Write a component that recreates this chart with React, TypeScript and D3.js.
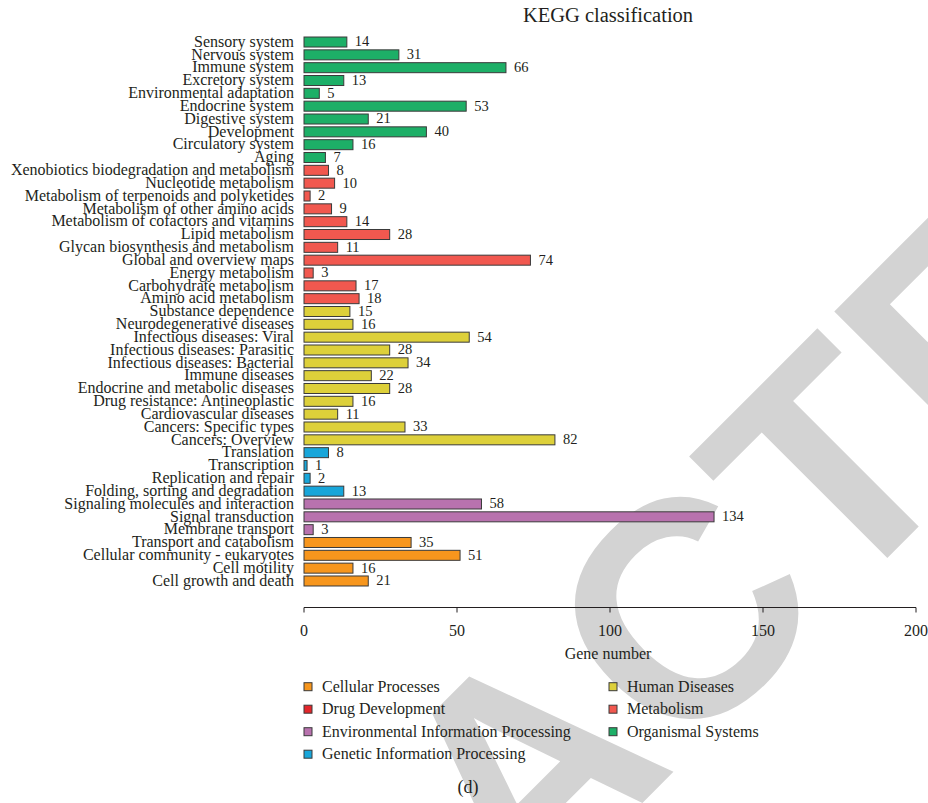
import React from "react";
import * as d3 from "d3";

const categories: string[] = [
  "Sensory system", "Nervous system", "Immune system", "Excretory system", "Environmental adaptation",
  "Endocrine system", "Digestive system", "Development", "Circulatory system", "Aging",
  "Xenobiotics biodegradation and metabolism", "Nucleotide metabolism", "Metabolism of terpenoids and polyketides",
  "Metabolism of other amino acids", "Metabolism of cofactors and vitamins", "Lipid metabolism",
  "Glycan biosynthesis and metabolism", "Global and overview maps", "Energy metabolism",
  "Carbohydrate metabolism", "Amino acid metabolism",
  "Substance dependence", "Neurodegenerative diseases", "Infectious diseases: Viral",
  "Infectious diseases: Parasitic", "Infectious diseases: Bacterial", "Immune diseases",
  "Endocrine and metabolic diseases", "Drug resistance: Antineoplastic", "Cardiovascular diseases",
  "Cancers: Specific types", "Cancers: Overview",
  "Translation", "Transcription", "Replication and repair", "Folding, sorting and degradation",
  "Signaling molecules and interaction", "Signal transduction", "Membrane transport",
  "Transport and catabolism", "Cellular community - eukaryotes", "Cell motility", "Cell growth and death",
];

const values: number[] = [
  14, 31, 66, 13, 5, 53, 21, 40, 16, 7,
  8, 10, 2, 9, 14, 28, 11, 74, 3, 17, 18,
  15, 16, 54, 28, 34, 22, 28, 16, 11, 33, 82,
  8, 1, 2, 13,
  58, 134, 3,
  35, 51, 16, 21,
];

const groups: string[] = [
  ...Array(10).fill("Organismal Systems"),
  ...Array(11).fill("Metabolism"),
  ...Array(11).fill("Human Diseases"),
  ...Array(4).fill("Genetic Information Processing"),
  ...Array(3).fill("Environmental Information Processing"),
  ...Array(4).fill("Cellular Processes"),
];

const classNames: string[] = [
  "Cellular Processes", "Drug Development", "Environmental Information Processing",
  "Genetic Information Processing", "Human Diseases", "Metabolism", "Organismal Systems",
];
const classColors: string[] = [
  "#f7961d", "#e3262a", "#b872ae", "#18a6da", "#ddd03a", "#f1584f", "#1daf67",
];

const xTicks: number[] = [0, 50, 100, 150, 200];

const SERIF = "'Liberation Serif', 'Times New Roman', serif";
const SANS = "'Liberation Sans', Arial, sans-serif";

export default function App() {
  const W = 928, H = 803;
  const x = d3.scaleLinear().domain([0, 200]).range([304, 916]);
  const y = d3.scaleBand<string>().domain(categories).range([35.6, 587.4]).paddingInner(0.22).paddingOuter(0.11);
  const color = d3.scaleOrdinal<string, string>().domain(classNames).range(classColors);
  const axisY = 607.5;

  const legendCols = [
    { x: 304, items: classNames.slice(0, 4) },
    { x: 609, items: classNames.slice(4) },
  ];

  const wmSize = 308;
  const wmU = 161;
  const wmV = 1022;

  return (
    <svg width={W} height={H} style={{ position: "absolute", left: 0, top: 0, background: "#fff", fontFamily: SERIF }}>
      <rect x={0} y={0} width={W} height={H} fill="#fff" />

      <g transform="rotate(-45)" fill="#d3d3d3" style={{ fontFamily: SANS, fontWeight: 700 }} fontSize={wmSize}>
        <text x={wmU} y={wmV} textAnchor="end">RETRAC</text>
        <text x={wmU} y={wmV} textAnchor="start">TED</text>
      </g>

      <text x={608} y={21.5} textAnchor="middle" fontSize={20.5} fill="#231f20">KEGG classification</text>

      {categories.map((c, i) => {
        const yy = y(c)!;
        const bh = y.bandwidth();
        return (
          <g key={c}>
            <text x={294} y={yy + bh / 2} dy="0.3em" textAnchor="end" fontSize={16} fill="#231f20">{c}</text>
            <rect x={x(0)} y={yy} width={x(values[i]) - x(0)} height={bh}
              fill={color(groups[i])} stroke="#3a3a3a" strokeWidth={1} />
            <text x={x(values[i]) + 8} y={yy + bh / 2} dy="0.3em" fontSize={14.5} fill="#231f20">{values[i]}</text>
          </g>
        );
      })}

      <g>
        <line x1={x(0)} x2={x(200)} y1={axisY} y2={axisY} stroke="#231f20" strokeWidth={1} />
        {xTicks.map((t) => (
          <g key={t}>
            <line x1={x(t)} x2={x(t)} y1={axisY} y2={axisY + 5} stroke="#231f20" strokeWidth={1} />
            <text x={x(t)} y={636} textAnchor="middle" fontSize={16} fill="#231f20">{t}</text>
          </g>
        ))}
        <text x={608} y={659} textAnchor="middle" fontSize={16} fill="#231f20">Gene number</text>
      </g>

      {legendCols.map((col) => col.items.map((name, j) => (
        <g key={name}>
          <rect x={col.x} y={682.7 + j * 22.5} width={8} height={8} fill={color(name)} stroke="#3a3a3a" strokeWidth={1} />
          <text x={col.x + 18} y={686.7 + j * 22.5} dy="0.3em" fontSize={16} fill="#231f20">{name}</text>
        </g>
      )))}

      <text x={468} y={793} textAnchor="middle" fontSize={18} fill="#231f20">(d)</text>
    </svg>
  );
}
